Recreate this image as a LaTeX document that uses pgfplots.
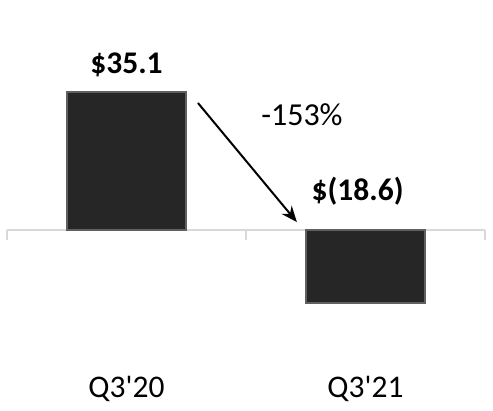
\documentclass[border=0pt]{standalone}
\usepackage{pgfplots}
\pgfplotsset{compat=1.18}
\usetikzlibrary{arrows.meta}
\usepackage{fontspec}
\setmainfont{Carlito}
\definecolor{barfill}{HTML}{262626}
\definecolor{baredge}{HTML}{606060}
\definecolor{zeroline}{HTML}{D9D9D9}

\begin{document}
\begin{tikzpicture}
\begin{axis}[
    name=ax,
    scale only axis,
    width=493pt, height=411pt,
    xmin=-0.5293, xmax=1.5335,
    ymin=-46.05, ymax=58.5,
    axis lines=none,
    ybar, bar width=119pt,
    clip=false,
]
% zero line and category ticks
\draw[zeroline, line width=1.5pt] (axis cs:-0.5,0) -- (axis cs:1.5,0);
\draw[zeroline, line width=1.5pt] (axis cs:-0.5,0) -- (axis cs:-0.5,-2.6);
\draw[zeroline, line width=1.5pt] (axis cs:0.5,0) -- (axis cs:0.5,-2.6);
\draw[zeroline, line width=1.5pt] (axis cs:1.5,0) -- (axis cs:1.5,-2.6);

\addplot[fill=barfill, draw=baredge, line width=1.2pt] coordinates {(0,35.1) (1,-18.6)};

\node[anchor=base, font=\fontsize{31.5}{36}\selectfont\bfseries] at (axis cs:0,39.7) {\$35.1};
\node[anchor=base, font=\fontsize{31.5}{36}\selectfont\bfseries] at (axis cs:0.967,7.6) {\$(18.6)};
\node[anchor=base, font=\fontsize{32}{36}\selectfont] at (axis cs:0.734,26.5) {-153\%};
\draw[line width=2pt, -{Stealth[length=16pt,width=13pt]}] (axis cs:0.299,32.3) -- (axis cs:0.713,2.0);

\node[anchor=base, font=\fontsize{31.5}{36}\selectfont] at (axis cs:0,-42.7) {Q3\textquotesingle20};
\node[anchor=base, font=\fontsize{31.5}{36}\selectfont] at (axis cs:1,-42.7) {Q3\textquotesingle21};
\end{axis}
\pgfresetboundingbox
\path[use as bounding box] (ax.south west) rectangle (ax.north east);
\end{tikzpicture}
\end{document}
